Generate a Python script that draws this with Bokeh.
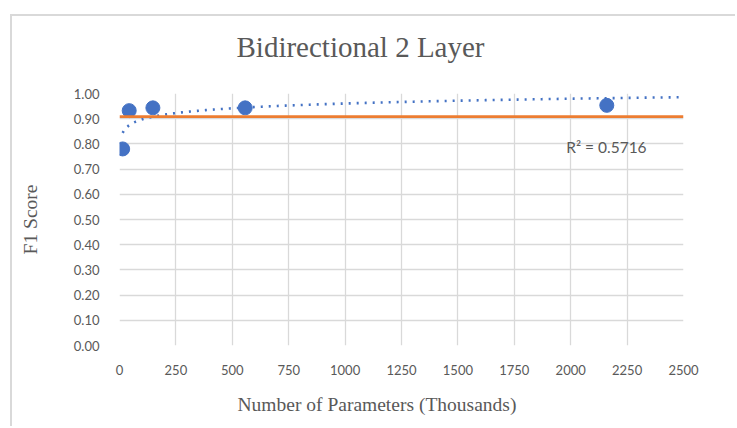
import numpy as np
from bokeh.plotting import figure
from bokeh.models import Range1d, Span, Label, Title, SingleIntervalTicker, NumeralTickFormatter, ColumnDataSource
from bokeh.embed import file_html
from bokeh.resources import INLINE

# ---- data ----
params_k = [14, 43, 148, 557, 2160]          # Number of Parameters (Thousands)
f1_score = [0.78, 0.932, 0.943, 0.943, 0.953]
baseline_f1 = 0.908
r2_text = "R² = 0.5716"
title_text = "Bidirectional 2 Layer"
x_title = "Number of Parameters (Thousands)"
y_title = "F1 Score"

# logarithmic trendline fitted to the data (as Excel does)
lx = np.log(np.array(params_k, dtype=float))
slope, intercept = np.polyfit(lx, np.array(f1_score), 1)
tx = np.linspace(params_k[0], 2500, 400)
ty = slope * np.log(tx) + intercept

blue = "#4472C4"
orange = "#ED7D31"
grid = "#d9d9d9"
txt = "#595959"
serif = "Liberation Serif"

W, H = 725, 412
p = figure(width=W, height=H, output_backend="svg", toolbar_location=None,
           x_range=Range1d(0, 2500), y_range=Range1d(0, 1),
           min_border_left=107, min_border_right=54, min_border_top=76, min_border_bottom=82)
p.styles = {"border-left": "2px solid #d9d9d9", "border-top": "2px solid #d9d9d9",
            "margin-left": "10px", "margin-top": "14px"}
p.outline_line_color = None
p.background_fill_color = "white"
p.border_fill_color = "white"

p.title = Title(text=title_text, align="left", offset=117, standoff=24,
                padding=dict(left=0, right=0, top=0, bottom=19),
                text_font=serif, text_font_size="29px", text_font_style="normal", text_color=txt)

p.xaxis.ticker = SingleIntervalTicker(interval=250)
p.yaxis.ticker = SingleIntervalTicker(interval=0.1)
p.yaxis.formatter = NumeralTickFormatter(format="0.00")
for ax in (p.xaxis, p.yaxis):
    ax.axis_line_color = None
    ax.major_tick_line_color = None
    ax.minor_tick_line_color = None
    ax.major_label_text_font = "Lato"
    ax.major_label_text_font_size = "13px"
    ax.major_label_text_color = txt
p.yaxis.major_label_standoff = 14
p.xaxis.major_label_standoff = 13
p.yaxis.axis_label = y_title
p.yaxis.axis_label_text_font = serif
p.yaxis.axis_label_text_font_style = "normal"
p.yaxis.axis_label_text_font_size = "19.5px"
p.yaxis.axis_label_text_color = txt
p.yaxis.axis_label_standoff = 30

p.add_layout(Title(text=x_title, align="left", offset=118, standoff=28,
                   text_font=serif, text_font_size="19.5px", text_font_style="normal",
                   text_color=txt), "below")

p.xgrid.grid_line_color = grid
p.ygrid.grid_line_color = grid
p.xgrid.grid_line_width = 1.3
p.ygrid.grid_line_width = 1.3

p.add_layout(Span(location=baseline_f1, dimension="width", line_color=orange, line_width=2.8))
p.line(tx, ty, line_color=blue, line_width=2.6, line_dash="2 6")
src = ColumnDataSource(dict(x=params_k, y=f1_score))
p.scatter("x", "y", source=src, size=14, fill_color=blue, line_color=blue)

p.add_layout(Label(x=1980, y=0.789, text=r2_text, text_font="Lato", text_font_size="15.5px",
                   text_color=txt, text_baseline="middle"))

open("out.html", "w").write(file_html(p, INLINE))
